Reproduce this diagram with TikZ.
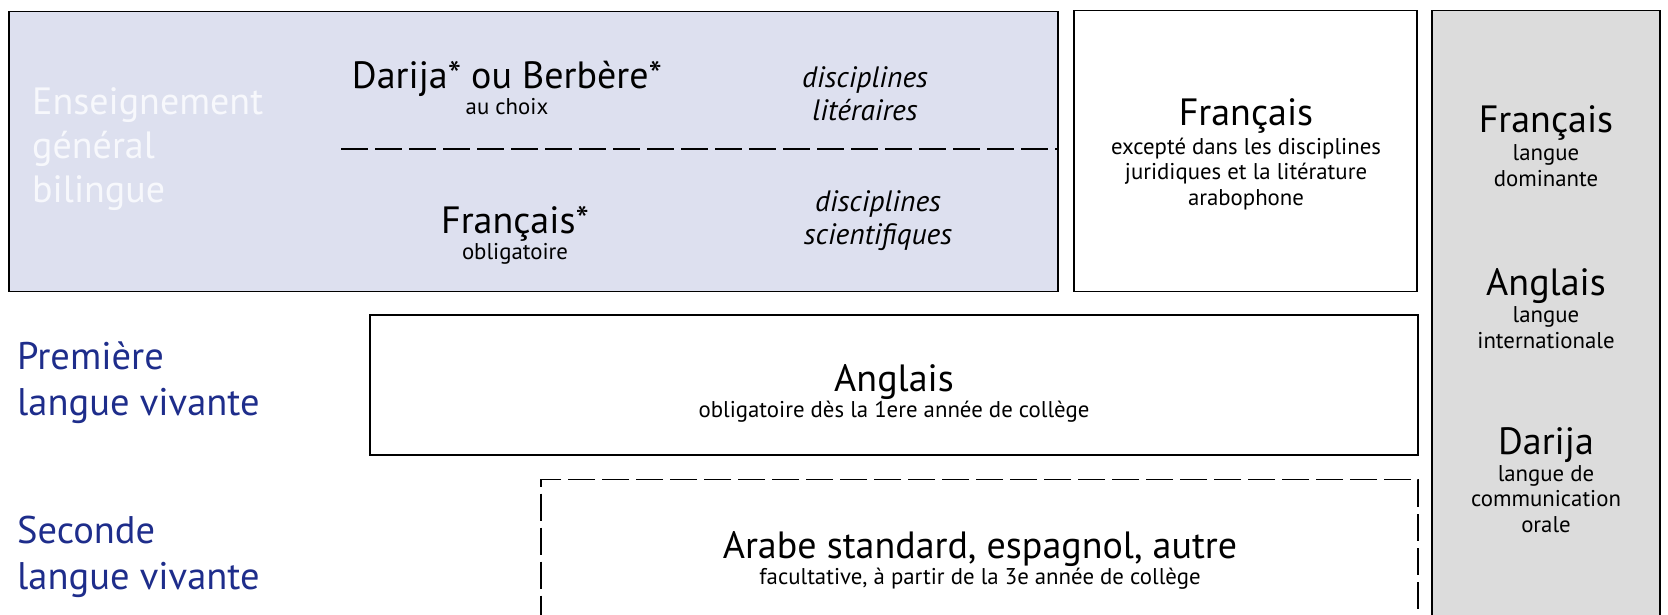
\documentclass[tikz,border=0pt]{standalone}
\usepackage{fontspec}
\setmainfont{PT Sans}
\usepackage{tikz}
\usetikzlibrary{positioning}

\definecolor{bilfill}{HTML}{DDE0EF}
\definecolor{colfill}{HTML}{DCDCDC}
\definecolor{navy}{HTML}{1E2D8B}
\definecolor{paleText}{HTML}{F7F8FC}

\begin{document}
\begin{tikzpicture}[x=1pt,y=-1pt,
        box/.style={draw=black,line width=1.6pt,inner sep=0pt},
        dashbox/.style={box,dash pattern=on 27pt off 7pt},
        title/.style={inner sep=0pt,anchor=base,font=\fontsize{38}{42}\selectfont},
        sub/.style={inner sep=0pt,anchor=base,align=center,font=\fontsize{22.8}{25.5}\selectfont},
        disc/.style={inner sep=0pt,anchor=base,align=center,font=\fontsize{29.5}{33}\selectfont\itshape},
        side/.style={inner sep=0pt,anchor=base west,align=left,text=navy,font=\fontsize{38.5}{46}\selectfont}]
        \useasboundingbox (0,0) rectangle (1668,615);

        \node[box,fill=bilfill,minimum width=1049pt,minimum height=280pt] (bil) at (533.5,151.5) {};
        \node[box,minimum width=343pt,minimum height=281pt] (frx) at (1245.5,151) {};
        \node[box,fill=colfill,minimum width=228pt,minimum height=640pt] (col) at (1546,330.5) {};
        \node[box,minimum width=1048pt,minimum height=140pt] (lv1) at (894,385) {};
        \node[dashbox,minimum width=877pt,minimum height=170pt] (lv2) at (979.5,564.5) {};

        \coordinate (sepw) at (341,149);
        \draw[line width=1.6pt,dash pattern=on 27pt off 7pt] (sepw) -- (sepw -| bil.east);

        \node[side,text=paleText,font=\fontsize{38}{44}\selectfont] (ens) at (32,202) {Enseignement\\général\\bilingue};
        \node[title] (darija) at (507,89) {Darija* ou Berbère*};
        \node[sub] (choix) at (507,115) {au choix};
        \node[disc] (lit) at (865,121) {disciplines\\litéraires};
        \node[title] (fretoile) at (515,233) {Français*};
        \node[sub] (oblig) at (515,259) {obligatoire};
        \node[disc] (sci) at (878,244) {disciplines\\scientifiques};

        \node[title] (frtitre) at (1246,125.5) {Français};
        \node[sub] (frsub) at (1246,205) {excepté dans les disciplines\\juridiques et la litérature\\arabophone};

        \node[title] (colfr) at (1546,133) {Français};
        \node[sub] (colfrsub) at (1546,186) {langue\\dominante};
        \node[title] (colang) at (1546,295) {Anglais};
        \node[sub] (colangsub) at (1546,348) {langue\\internationale};
        \node[title] (coldar) at (1546,454) {Darija};
        \node[sub] (coldarsub) at (1546,532) {langue de\\communication\\orale};

        \node[side] (prem) at (17,415) {Première\\langue vivante};
        \node[side] (sec) at (17,589) {Seconde\\langue vivante};

        \node[title] (ang) at (894,391.5) {Anglais};
        \node[sub] (angsub) at (894,417) {obligatoire dès la 1ere année de collège};
        \node[title] (arabe) at (980,558) {Arabe standard, espagnol, autre};
        \node[sub] (arabesub) at (980,584) {facultative, à partir de la 3e année de collège};
\end{tikzpicture}
\end{document}
